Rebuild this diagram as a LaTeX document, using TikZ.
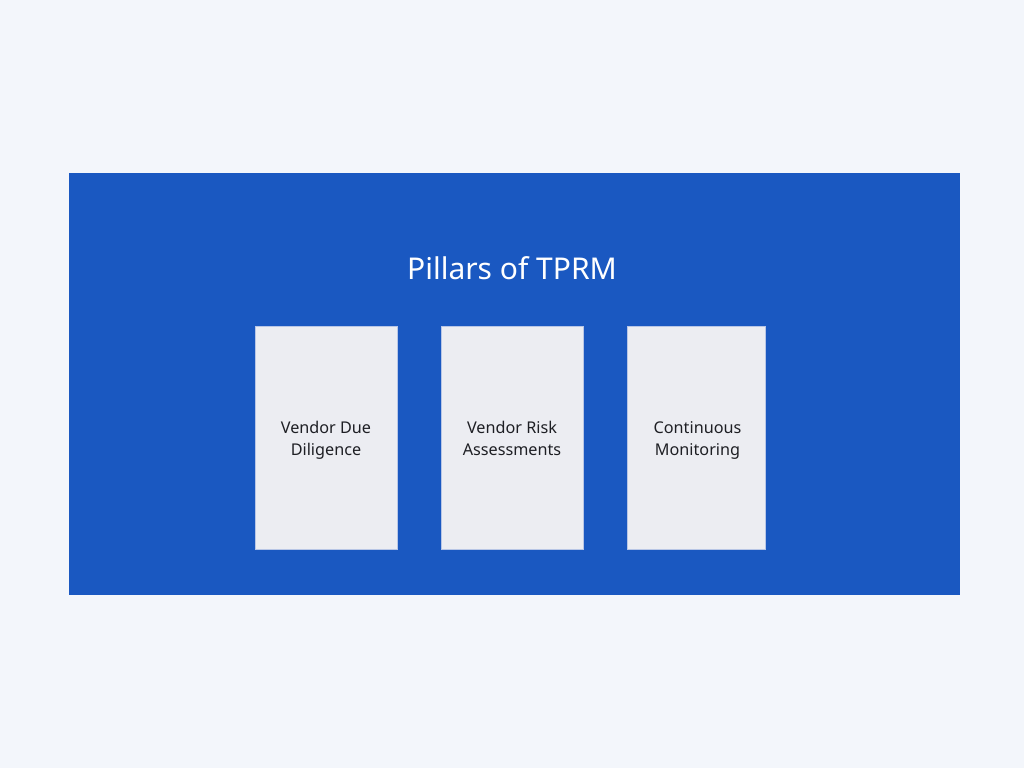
\documentclass[tikz,border=0pt]{standalone}
\usepackage{fontspec}
\setmainfont{Noto Sans}
\definecolor{pagebg}{HTML}{F3F6FB}
\definecolor{panelblue}{HTML}{1A58C1}
\definecolor{pillarfill}{HTML}{ECEDF2}
\definecolor{pillarline}{HTML}{B8C6E6}
\definecolor{pillartext}{HTML}{1E1F24}
\begin{document}
\begin{tikzpicture}[
    x=1pt, y=-1pt,
    panel/.style={fill=panelblue, draw=none},
    pillar/.style={rectangle, fill=pillarfill, draw=pillarline, line width=0.6pt,
        minimum height=223pt, inner sep=0pt, anchor=north west},
    pillarlabel/.style={align=center, text=pillartext, font=\fontsize{16.2}{22}\selectfont}
]

% Page and panel
\fill[pagebg] (0,0) rectangle (1024,768);
\useasboundingbox (0,0) rectangle (1024,768);
\draw[panel] (69,173) rectangle (960,595);

% Title
\node[anchor=base, text=white, font=\fontsize{30}{36}\selectfont] (title) at (512,279) {Pillars of TPRM};

% Pillars
\node[pillar, minimum width=142pt] (dd) at (255,326) {};
\node[pillar, minimum width=142pt] (ra) at (441,326) {};
\node[pillar, minimum width=138pt] (cm) at (627,326) {};

% Labels
\node[pillarlabel, anchor=base] (ddlabel) at (326,455) {Vendor Due\\Diligence};
\node[pillarlabel, anchor=base] (ralabel) at (512,455) {Vendor Risk\\Assessments};
\node[pillarlabel, anchor=base] (cmlabel) at (697.5,455) {Continuous\\Monitoring};

\end{tikzpicture}
\end{document}
